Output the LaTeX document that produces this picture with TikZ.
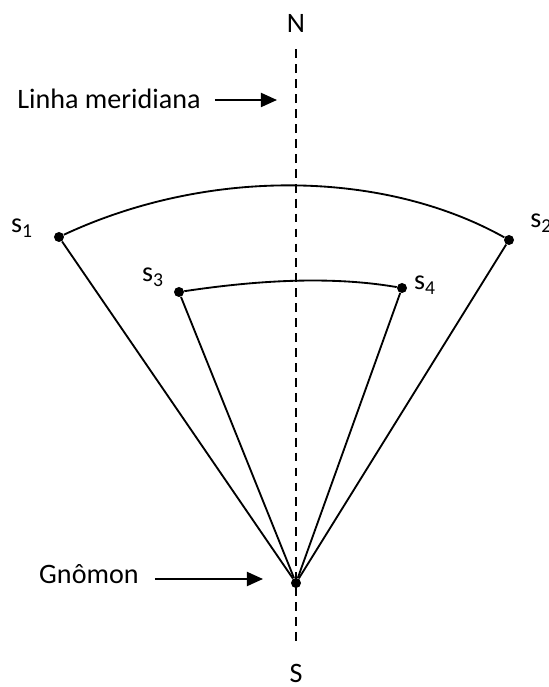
\documentclass[tikz,border=0pt]{standalone}
\usepackage{fontspec}
\setmainfont{Carlito}
\usepackage{tikz}
\usetikzlibrary{arrows.meta, positioning, calc}

\tikzset{
  lbl/.style={font=\fontsize{16}{19}\selectfont, inner sep=0pt},
  dot/.style={circle, fill=black, inner sep=0pt, minimum size=0.2cm},
  ray/.style={line width=1.05pt},
  arr/.style={line width=1.05pt, -{Triangle[length=0.32cm,width=0.28cm]}},
  meridian/.style={line width=1.1pt, dash pattern=on 5pt off 3.5pt}
}

\begin{document}
\begin{tikzpicture}

\useasboundingbox (-5.92,-2.08) rectangle (5.06,11.66);

%---------------- Points ----------------%
\node[dot] (g)  at (0,0) {};
\node[dot] (s1) at (-4.74,6.92) {};
\node[dot] (s2) at (4.26,6.86) {};
\node[dot] (s3) at (-2.34,5.82) {};
\node[dot] (s4) at (2.12,5.90) {};

%---------------- Labels ----------------%
\node[lbl, anchor=base] (nlbl) at (0,11.0) {N};
\node[lbl, anchor=base] (slbl) at (0,-1.98) {S};
\node[lbl, anchor=base] (l1) at (-5.48,7.0) {s\textsubscript{1}};
\node[lbl, anchor=base west] (l2) at (4.68,7.1) {s\textsubscript{2}};
\node[lbl, anchor=base] (l3) at (-2.86,6.02) {s\textsubscript{3}};
\node[lbl, anchor=base] (l4) at (2.58,5.86) {s\textsubscript{4}};
\node[lbl, anchor=base east] (lm) at (-1.9,9.49) {Linha meridiana};
\node[lbl, anchor=base east] (gl) at (-3.14,0) {Gnômon};

%---------------- Meridian ----------------%
\draw[meridian, shorten <=0.32cm, shorten >=0.42cm] (nlbl.south) -- (slbl.north);

%---------------- Shadow lines ----------------%
\draw[ray] (g) -- (s1);
\draw[ray] (g) -- (s2);
\draw[ray] (g) -- (s3);
\draw[ray] (g) -- (s4);

%---------------- Arcs ----------------%
\draw[ray] (s1) .. controls (-1.74,8.32) and (1.76,8.26) .. (s2);
\draw[ray] (s3) .. controls (-0.74,6.06) and (0.72,6.14) .. (s4);

%---------------- Arrows ----------------%
\coordinate (lmtail) at (-1.62,9.66);
\coordinate (gltail) at (-2.82,0.08);
\draw[arr, shorten >=0.38cm] (lmtail) -- (lmtail -| g);
\draw[arr, shorten >=0.66cm] (gltail) -- (gltail -| g);

\end{tikzpicture}
\end{document}
